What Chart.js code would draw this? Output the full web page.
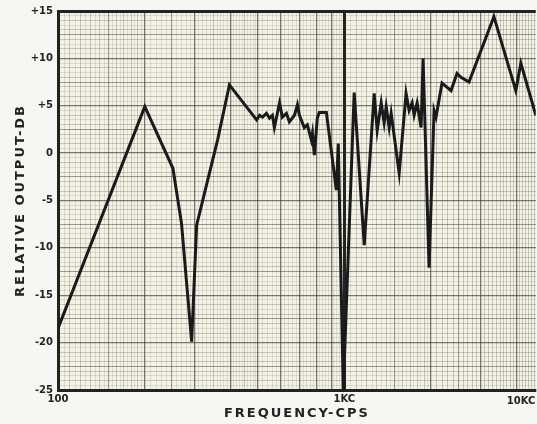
<!DOCTYPE html>
<html>
<head>
<meta charset="utf-8">
<script src="https://cdn.jsdelivr.net/npm/chart.js@4/dist/chart.umd.min.js"></script>
<style>
  html, body { margin: 0; padding: 0; background: #f6f6f3; }
  canvas { display: block; }
</style>
</head>
<body>
<canvas id="chart" width="537" height="424"></canvas>
<script>
// frequency (cps) and relative output (dB)
const freqs = [100, 201, 252, 270, 293, 305, 361, 397, 494, 506, 518, 535, 548, 561, 570, 594, 608, 628, 643, 670,
  686, 697, 725, 743, 767, 774, 786, 805, 818, 866, 938, 953, 992, 1083, 1174, 1272, 1303, 1346, 1378, 1401,
  1435, 1458, 1555, 1644, 1685, 1726, 1754, 1797, 1855, 1885, 1978, 2059, 2092, 2195, 2360, 2476, 2557, 2727,
  3332, 3974, 4138, 4667]
const levels = [-18.5, 4.9, -1.6, -7.4, -19.9, -7.6, 1.4, 7.2, 3.5, 4.0, 3.8, 4.2, 3.7, 4.0, 2.7, 5.3, 3.8, 4.2, 3.3, 4.0,
  5.1, 4.0, 2.7, 3.0, 1.4, 2.1, -0.2, 3.7, 4.3, 4.3, -3.9, 1.0, -25, 6.4, -9.7, 6.3, 2.4, 5.3, 3.2, 4.9,
  2.7, 4.2, -2.1, 6.3, 4.5, 5.3, 4.0, 5.3, 2.7, 10.0, -12.1, 4.5, 3.8, 7.4, 6.6, 8.4, 8.0, 7.5,
  14.4, 6.6, 9.5, 4.0]

const yTickLabels = { 15: "+15", 10: "+10", 5: "+5", 0: "0", "-5": "-5", "-10": "-10", "-15": "-15", "-20": "-20", "-25": "-25" }
const xTickLabels = { 100: "100", 1000: "1KC" }
const offScaleLabel = "10KC"

const ink = "#222"
const labelFont = { family: "DejaVu Sans", weight: "bold", size: 10 }

// graph paper rulings
const xRulings = []
for (let f = 100; f < 200; f += 5) xRulings.push(f)
for (let f = 200; f < 500; f += 10) xRulings.push(f)
for (let f = 500; f < 1000; f += 20) xRulings.push(f)
for (let f = 1000; f < 2000; f += 50) xRulings.push(f)
for (let f = 2000; f <= 4600; f += 100) xRulings.push(f)
const yRulings = []
for (let v = -25; v <= 15; v += 0.5) yRulings.push(v)

function xLine(f) {
  if (f === 1000) return [ink, 3]
  if ((f < 1000 && f % 100 === 0) || f % 1000 === 0) return ["rgba(45,45,40,0.62)", 1.3]
  if ([150, 250, 1500, 2500].includes(f)) return ["rgba(45,45,40,0.45)", 1.1]
  if ((f < 200 && f % 10 === 0) || (f >= 200 && f < 1000 && f % 50 === 0) || (f > 1000 && f % 100 === 0)) return ["rgba(60,60,55,0.25)", 1]
  return ["rgba(60,60,55,0.12)", 1]
}

function yLine(v) {
  if (v === 15) return [ink, 3]
  if (v % 5 === 0) return ["rgba(45,45,40,0.62)", 1.3]
  if (v % 2.5 === 0) return ["rgba(45,45,40,0.45)", 1.1]
  if (v % 1 === 0) return ["rgba(60,60,55,0.25)", 1]
  return ["rgba(60,60,55,0.12)", 1]
}

const paper = {
  id: "paper",
  beforeDraw(chart) {
    const { ctx, chartArea: a } = chart
    ctx.save()
    ctx.fillStyle = "#f3f2e5"
    ctx.fillRect(a.left, a.top, a.right - a.left, a.bottom - a.top)
    ctx.restore()
    Object.values(chart.scales).forEach(s => {
      if (s._spaced) return
      const orig = s.drawTitle.bind(s)
      s.drawTitle = function () {
        this.ctx.save()
        this.ctx.letterSpacing = "2px"
        orig()
        this.ctx.restore()
      }
      s._spaced = true
    })
  },
  afterDraw(chart) {
    const { ctx, chartArea: a } = chart
    ctx.save()
    ctx.font = "bold 10px 'DejaVu Sans'"
    ctx.fillStyle = ink
    ctx.textAlign = "left"
    ctx.textBaseline = "middle"
    ctx.fillText(offScaleLabel, a.right - 29, a.bottom + 11)
    ctx.restore()
  }
}

new Chart(document.getElementById("chart"), {
  type: "line",
  data: {
    datasets: [{
      data: freqs.map((f, i) => ({ x: f, y: levels[i] })),
      borderColor: "#1a1a1a",
      borderWidth: 3,
      pointRadius: 0,
      tension: 0,
      borderJoinStyle: "miter"
    }]
  },
  options: {
    responsive: false,
    animation: false,
    layout: { padding: { top: 0, right: 0, bottom: 0, left: 0 } },
    plugins: { legend: { display: false }, tooltip: { enabled: false } },
    scales: {
      x: {
        type: "logarithmic",
        min: 100,
        max: 4667,
        afterBuildTicks: s => { s.ticks = xRulings.map(v => ({ value: v })) },
        afterFit: s => { s.height = 34 },
        ticks: {
          autoSkip: false,
          maxRotation: 0,
          padding: 3,
          color: ink,
          font: labelFont,
          callback: v => xTickLabels[v] || ""
        },
        grid: {
          drawTicks: false,
          color: c => xLine(c.tick.value)[0],
          lineWidth: c => xLine(c.tick.value)[1]
        },
        border: { display: true, color: ink, width: 3 },
        title: {
          display: true,
          text: "FREQUENCY-CPS",
          color: ink,
          font: { family: "DejaVu Sans", weight: "bold", size: 13 },
          padding: { top: 0, bottom: 3 }
        }
      },
      y: {
        min: -25,
        max: 15,
        afterBuildTicks: s => { s.ticks = yRulings.map(v => ({ value: v })) },
        afterFit: s => { s.width = 58 },
        ticks: {
          autoSkip: false,
          padding: 5,
          color: ink,
          font: labelFont,
          callback: v => yTickLabels[v] || ""
        },
        grid: {
          drawTicks: false,
          color: c => yLine(c.tick.value)[0],
          lineWidth: c => yLine(c.tick.value)[1]
        },
        border: { display: true, color: ink, width: 3 },
        title: {
          display: true,
          text: "RELATIVE OUTPUT-DB",
          color: ink,
          font: { family: "DejaVu Sans", weight: "bold", size: 13 },
          padding: { top: 13, bottom: 0 }
        }
      }
    }
  },
  plugins: [paper]
})
</script>
</body>
</html>
